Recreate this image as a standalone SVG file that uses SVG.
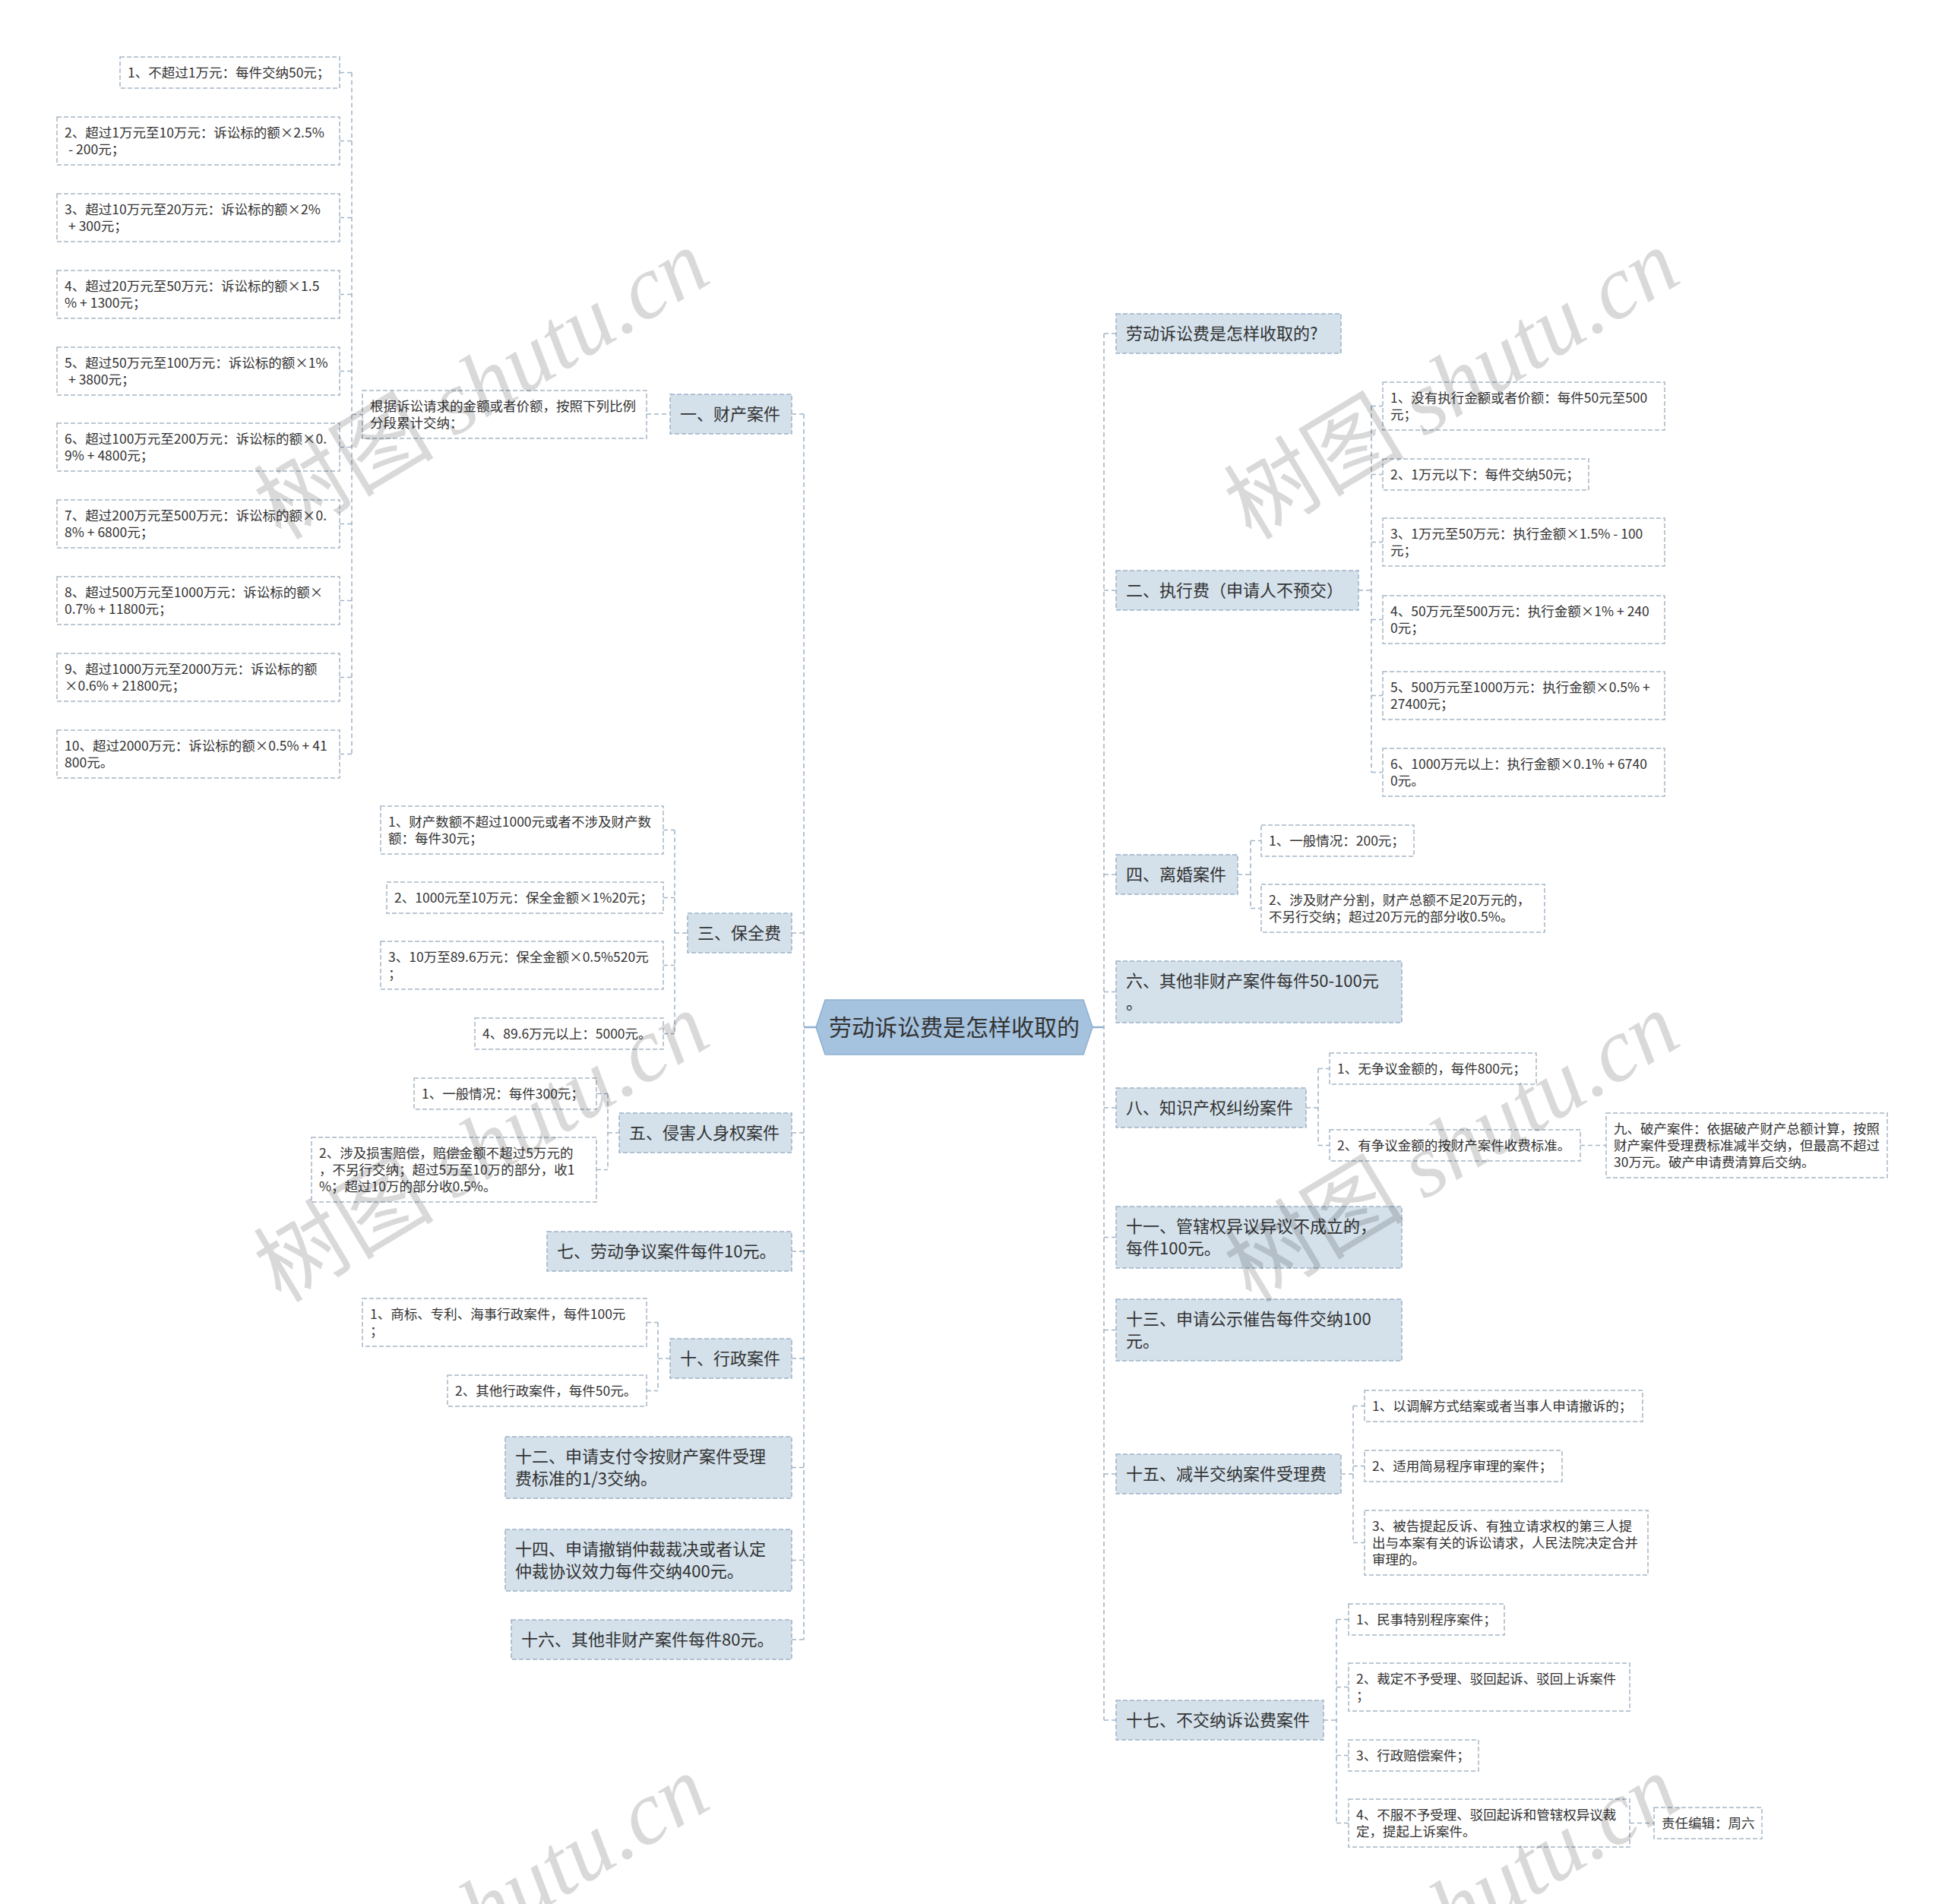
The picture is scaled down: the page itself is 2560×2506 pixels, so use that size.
<svg xmlns="http://www.w3.org/2000/svg" width="2560" height="2506" viewBox="0 0 2560 2506">
<style>
text{font-family:"Noto Sans CJK SC","Microsoft YaHei",sans-serif;fill:#333}
.m rect{fill:#d4e1eb;stroke:#9fb3c7;stroke-width:1.5;stroke-dasharray:6 3}
.l rect{fill:#fff;stroke:#a6b6c5;stroke-width:1.5;stroke-dasharray:6 3}
.m text{font-size:22px}
.l text{font-size:17.5px}
.c path{fill:none;stroke:#a3b6c8;stroke-width:1.6;stroke-dasharray:6 4}
.c path.s{stroke:#8fb0d1;stroke-width:2.4;stroke-dasharray:none}
.wm text{font-size:119px;fill:#000;fill-opacity:0.15}
</style>
<rect width="2560" height="2506" fill="#fff"/>
<g class="c" id="connectors">
<path d="M463 95.5V992.5M447 95.5H463M447 185.5H463M447 286.5H463M447 387.5H463M447 488.5H463M447 588.5H463M447 689.5H463M447 790.5H463M447 891.5H463M447 992.5H463M463 545.5H477"/>
<path d="M851 545H882M1058 545V2158M1042 545H1058M1042 1228H1058M1042 1491H1058M1042 1647H1058M1042 1788H1058M1042 1931.5H1058M1042 2053.5H1058M1042 2158H1058"/>
<path d="M888 1092.5V1360.5M873 1092.5H888M873 1181.5H888M873 1270.5H888M873 1360.5H888M888 1228H905"/>
<path d="M800 1439.5V1539.5M785 1439.5H800M785 1539.5H800M800 1491H815"/>
<path d="M866 1740.5V1830.5M851 1740.5H866M851 1830.5H866M866 1788H882"/>
<path class="s" d="M1058 1352H1074M1438 1352H1453"/>
<path d="M1453 439V2264M1453 439H1469M1453 777H1469M1453 1151H1469M1453 1305.5H1469M1453 1458H1469M1453 1628.5H1469M1453 1750.5H1469M1453 1940H1469M1453 2264H1469"/>
<path d="M1805 534.5V1016.5M1788 777H1805M1805 534.5H1820M1805 624.5H1820M1805 713.5H1820M1805 815.5H1820M1805 915.5H1820M1805 1016.5H1820"/>
<path d="M1646 1106.5V1195.5M1629 1151H1646M1646 1106.5H1660M1646 1195.5H1660"/>
<path d="M1735 1406.5V1507.5M1719 1458H1735M1735 1406.5H1750M1735 1507.5H1750M2080 1507.5H2114"/>
<path d="M1781 1850.5V2030.5M1765 1940H1781M1781 1850.5H1796M1781 1929.5H1796M1781 2030.5H1796"/>
<path d="M1759 2131.5V2399.5M1742 2264H1759M1759 2131.5H1775M1759 2220.5H1775M1759 2310.5H1775M1759 2399.5H1775M2145 2399.5H2177"/>
</g>
<g id="root">
<polygon points="1074,1352 1086,1316 1426,1316 1438,1352 1426,1388 1086,1388" fill="#a5c2de" stroke="#8fb0d1" stroke-width="1.5"/>
<text x="1256" y="1362.5" font-size="30" text-anchor="middle">劳动诉讼费是怎样收取的</text>
</g>
<g class="l" id="p-l1"><rect x="158" y="75" width="289" height="41"/><text x="168" y="101.5">1、不超过1万元：每件交纳50元；</text></g>
<g class="l" id="p-l2"><rect x="75" y="154" width="372" height="63"/><text x="85" y="180.5">2、超过1万元至10万元：诉讼标的额×2.5%<tspan x="90" y="202.5">- 200元；</tspan></text></g>
<g class="l" id="p-l3"><rect x="75" y="255" width="372" height="63"/><text x="85" y="281.5">3、超过10万元至20万元：诉讼标的额×2%<tspan x="90" y="303.5">+ 300元；</tspan></text></g>
<g class="l" id="p-l4"><rect x="75" y="356" width="372" height="63"/><text x="85" y="382.5">4、超过20万元至50万元：诉讼标的额×1.5<tspan x="85" y="404.5">% + 1300元；</tspan></text></g>
<g class="l" id="p-l5"><rect x="75" y="457" width="372" height="63"/><text x="85" y="483.5">5、超过50万元至100万元：诉讼标的额×1%<tspan x="90" y="505.5">+ 3800元；</tspan></text></g>
<g class="l" id="p-l6"><rect x="75" y="557" width="372" height="63"/><text x="85" y="583.5">6、超过100万元至200万元：诉讼标的额×0.<tspan x="85" y="605.5">9% + 4800元；</tspan></text></g>
<g class="l" id="p-l7"><rect x="75" y="658" width="372" height="63"/><text x="85" y="684.5">7、超过200万元至500万元：诉讼标的额×0.<tspan x="85" y="706.5">8% + 6800元；</tspan></text></g>
<g class="l" id="p-l8"><rect x="75" y="759" width="372" height="63"/><text x="85" y="785.5">8、超过500万元至1000万元：诉讼标的额×<tspan x="85" y="807.5">0.7% + 11800元；</tspan></text></g>
<g class="l" id="p-l9"><rect x="75" y="860" width="372" height="63"/><text x="85" y="886.5">9、超过1000万元至2000万元：诉讼标的额<tspan x="85" y="908.5">×0.6% + 21800元；</tspan></text></g>
<g class="l" id="p-l10"><rect x="75" y="961" width="372" height="63"/><text x="85" y="987.5">10、超过2000万元：诉讼标的额×0.5% + 41<tspan x="85" y="1009.5">800元。</tspan></text></g>
<g class="l" id="p-intro"><rect x="477" y="514" width="374" height="63"/><text x="487" y="540.5">根据诉讼请求的金额或者价额，按照下列比例<tspan x="487" y="562.5">分段累计交纳：</tspan></text></g>
<g class="m" id="n1"><rect x="882" y="519" width="160" height="52"/><text x="895" y="552.7">一、财产案件</text></g>
<g class="m" id="n3"><rect x="905" y="1202" width="137" height="52"/><text x="918" y="1235.7">三、保全费</text></g>
<g class="l" id="n3-l1"><rect x="501" y="1061" width="372" height="63"/><text x="511" y="1087.5">1、财产数额不超过1000元或者不涉及财产数<tspan x="511" y="1109.5">额：每件30元；</tspan></text></g>
<g class="l" id="n3-l2"><rect x="509" y="1161" width="364" height="41"/><text x="519" y="1187.5">2、1000元至10万元：保全金额×1%20元；</text></g>
<g class="l" id="n3-l3"><rect x="501" y="1239" width="372" height="63"/><text x="511" y="1265.5">3、10万至89.6万元：保全金额×0.5%520元<tspan x="511" y="1287.5">；</tspan></text></g>
<g class="l" id="n3-l4"><rect x="625" y="1340" width="248" height="41"/><text x="635" y="1366.5">4、89.6万元以上：5000元。</text></g>
<g class="m" id="n5"><rect x="815" y="1465" width="227" height="52"/><text x="828" y="1498.7">五、侵害人身权案件</text></g>
<g class="l" id="n5-l1"><rect x="545" y="1419" width="240" height="41"/><text x="555" y="1445.5">1、一般情况：每件300元；</text></g>
<g class="l" id="n5-l2"><rect x="410" y="1497" width="375" height="85"/><text x="420" y="1523.5">2、涉及损害赔偿，赔偿金额不超过5万元的<tspan x="420" y="1545.5">，不另行交纳；超过5万至10万的部分，收1</tspan><tspan x="420" y="1567.5">%；超过10万的部分收0.5%。</tspan></text></g>
<g class="m" id="n7"><rect x="720" y="1621" width="322" height="52"/><text x="733" y="1654.7">七、劳动争议案件每件10元。</text></g>
<g class="m" id="n10"><rect x="882" y="1762" width="160" height="52"/><text x="895" y="1795.7">十、行政案件</text></g>
<g class="l" id="n10-l1"><rect x="477" y="1709" width="374" height="63"/><text x="487" y="1735.5">1、商标、专利、海事行政案件，每件100元<tspan x="487" y="1757.5">；</tspan></text></g>
<g class="l" id="n10-l2"><rect x="589" y="1810" width="262" height="41"/><text x="599" y="1836.5">2、其他行政案件，每件50元。</text></g>
<g class="m" id="n12"><rect x="665" y="1891" width="377" height="81"/><text x="678" y="1924.7">十二、申请支付令按财产案件受理<tspan x="678" y="1953.7">费标准的1/3交纳。</tspan></text></g>
<g class="m" id="n14"><rect x="665" y="2013" width="377" height="81"/><text x="678" y="2046.7">十四、申请撤销仲裁裁决或者认定<tspan x="678" y="2075.7">仲裁协议效力每件交纳400元。</tspan></text></g>
<g class="m" id="n16"><rect x="673" y="2132" width="369" height="52"/><text x="686" y="2165.7">十六、其他非财产案件每件80元。</text></g>
<g class="m" id="q"><rect x="1469" y="413" width="296" height="52"/><text x="1482" y="446.7">劳动诉讼费是怎样收取的?</text></g>
<g class="m" id="n2"><rect x="1469" y="751" width="319" height="52"/><text x="1482" y="784.7">二、执行费（申请人不预交）</text></g>
<g class="l" id="n2-l1"><rect x="1820" y="503" width="371" height="63"/><text x="1830" y="529.5">1、没有执行金额或者价额：每件50元至500<tspan x="1830" y="551.5">元；</tspan></text></g>
<g class="l" id="n2-l2"><rect x="1820" y="604" width="271" height="41"/><text x="1830" y="630.5">2、1万元以下：每件交纳50元；</text></g>
<g class="l" id="n2-l3"><rect x="1820" y="682" width="371" height="63"/><text x="1830" y="708.5">3、1万元至50万元：执行金额×1.5% - 100<tspan x="1830" y="730.5">元；</tspan></text></g>
<g class="l" id="n2-l4"><rect x="1820" y="784" width="371" height="63"/><text x="1830" y="810.5">4、50万元至500万元：执行金额×1% + 240<tspan x="1830" y="832.5">0元；</tspan></text></g>
<g class="l" id="n2-l5"><rect x="1820" y="884" width="371" height="63"/><text x="1830" y="910.5">5、500万元至1000万元：执行金额×0.5% +<tspan x="1830" y="932.5">27400元；</tspan></text></g>
<g class="l" id="n2-l6"><rect x="1820" y="985" width="371" height="63"/><text x="1830" y="1011.5">6、1000万元以上：执行金额×0.1% + 6740<tspan x="1830" y="1033.5">0元。</tspan></text></g>
<g class="m" id="n4"><rect x="1469" y="1125" width="160" height="52"/><text x="1482" y="1158.7">四、离婚案件</text></g>
<g class="l" id="n4-l1"><rect x="1660" y="1086" width="201" height="41"/><text x="1670" y="1112.5">1、一般情况：200元；</text></g>
<g class="l" id="n4-l2"><rect x="1660" y="1164" width="373" height="63"/><text x="1670" y="1190.5">2、涉及财产分割，财产总额不足20万元的，<tspan x="1670" y="1212.5">不另行交纳；超过20万元的部分收0.5%。</tspan></text></g>
<g class="m" id="n6"><rect x="1469" y="1265" width="376" height="81"/><text x="1482" y="1298.7">六、其他非财产案件每件50-100元<tspan x="1482" y="1327.7">。</tspan></text></g>
<g class="m" id="n8"><rect x="1469" y="1432" width="250" height="52"/><text x="1482" y="1465.7">八、知识产权纠纷案件</text></g>
<g class="l" id="n8-l1"><rect x="1750" y="1386" width="272" height="41"/><text x="1760" y="1412.5">1、无争议金额的，每件800元；</text></g>
<g class="l" id="n8-l2"><rect x="1750" y="1487" width="330" height="41"/><text x="1760" y="1513.5">2、有争议金额的按财产案件收费标准。</text></g>
<g class="l" id="n9"><rect x="2114" y="1465" width="370" height="85"/><text x="2124" y="1491.5">九、破产案件：依据破产财产总额计算，按照<tspan x="2124" y="1513.5">财产案件受理费标准减半交纳，但最高不超过</tspan><tspan x="2124" y="1535.5">30万元。破产申请费清算后交纳。</tspan></text></g>
<g class="m" id="n11"><rect x="1469" y="1588" width="376" height="81"/><text x="1482" y="1621.7">十一、管辖权异议异议不成立的，<tspan x="1482" y="1650.7">每件100元。</tspan></text></g>
<g class="m" id="n13"><rect x="1469" y="1710" width="376" height="81"/><text x="1482" y="1743.7">十三、申请公示催告每件交纳100<tspan x="1482" y="1772.7">元。</tspan></text></g>
<g class="m" id="n15"><rect x="1469" y="1914" width="296" height="52"/><text x="1482" y="1947.7">十五、减半交纳案件受理费</text></g>
<g class="l" id="n15-l1"><rect x="1796" y="1830" width="366" height="41"/><text x="1806" y="1856.5">1、以调解方式结案或者当事人申请撤诉的；</text></g>
<g class="l" id="n15-l2"><rect x="1796" y="1909" width="260" height="41"/><text x="1806" y="1935.5">2、适用简易程序审理的案件；</text></g>
<g class="l" id="n15-l3"><rect x="1796" y="1988" width="373" height="85"/><text x="1806" y="2014.5">3、被告提起反诉、有独立请求权的第三人提<tspan x="1806" y="2036.5">出与本案有关的诉讼请求，人民法院决定合并</tspan><tspan x="1806" y="2058.5">审理的。</tspan></text></g>
<g class="m" id="n17"><rect x="1469" y="2238" width="273" height="52"/><text x="1482" y="2271.7">十七、不交纳诉讼费案件</text></g>
<g class="l" id="n17-l1"><rect x="1775" y="2111" width="205" height="41"/><text x="1785" y="2137.5">1、民事特别程序案件；</text></g>
<g class="l" id="n17-l2"><rect x="1775" y="2189" width="370" height="63"/><text x="1785" y="2215.5">2、裁定不予受理、驳回起诉、驳回上诉案件<tspan x="1785" y="2237.5">；</tspan></text></g>
<g class="l" id="n17-l3"><rect x="1775" y="2290" width="171" height="41"/><text x="1785" y="2316.5">3、行政赔偿案件；</text></g>
<g class="l" id="n17-l4"><rect x="1775" y="2368" width="370" height="63"/><text x="1785" y="2394.5">4、不服不予受理、驳回起诉和管辖权异议裁<tspan x="1785" y="2416.5">定，提起上诉案件。</tspan></text></g>
<g class="l" id="editor"><rect x="2177" y="2379" width="142" height="41"/><text x="2187" y="2405.5">责任编辑：周六</text></g>
<g class="wm" id="watermarks">
<text x="370" y="712" transform="rotate(-31 370 712)">树图 <tspan font-family="Liberation Serif,serif" font-style="italic">shutu.cn</tspan></text>
<text x="1647" y="712" transform="rotate(-31 1647 712)">树图 <tspan font-family="Liberation Serif,serif" font-style="italic">shutu.cn</tspan></text>
<text x="370" y="1716" transform="rotate(-31 370 1716)">树图 <tspan font-family="Liberation Serif,serif" font-style="italic">shutu.cn</tspan></text>
<text x="1647" y="1716" transform="rotate(-31 1647 1716)">树图 <tspan font-family="Liberation Serif,serif" font-style="italic">shutu.cn</tspan></text>
<text x="370" y="2720" transform="rotate(-31 370 2720)">树图 <tspan font-family="Liberation Serif,serif" font-style="italic">shutu.cn</tspan></text>
<text x="1647" y="2720" transform="rotate(-31 1647 2720)">树图 <tspan font-family="Liberation Serif,serif" font-style="italic">shutu.cn</tspan></text>
</g>
</svg>
